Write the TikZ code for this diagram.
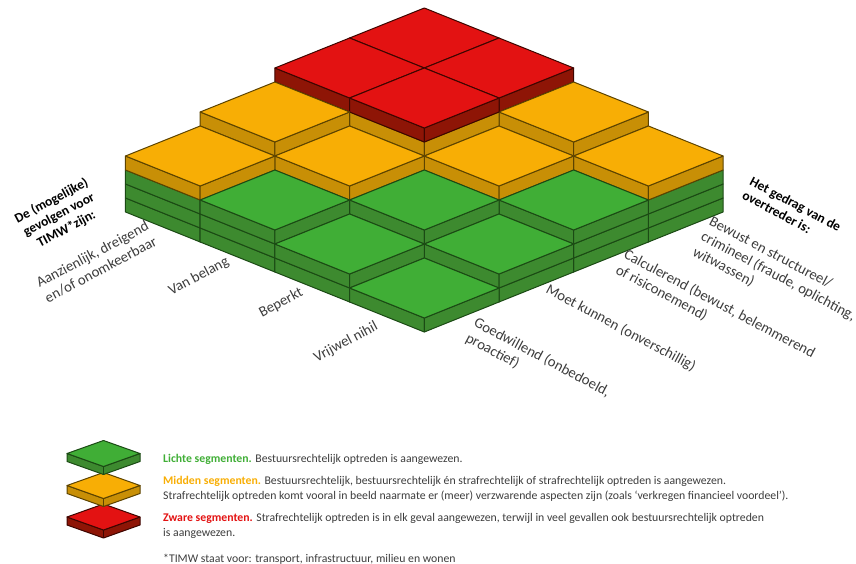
\documentclass[tikz,border=0pt]{standalone}
\usepackage{fontspec}
\setmainfont{Carlito}
\usepackage{tikz}

\definecolor{groen}{HTML}{40AE36}
\definecolor{groenzij}{HTML}{3D8A2F}
\definecolor{groenlijn}{HTML}{1B4A14}
\definecolor{oranje}{HTML}{F8AE05}
\definecolor{oranjezij}{HTML}{C88F06}
\definecolor{oranjelijn}{HTML}{5C4300}
\definecolor{rood}{HTML}{E31212}
\definecolor{roodzij}{HTML}{8E1506}
\definecolor{roodlijn}{HTML}{3D0500}
\definecolor{tekst}{HTML}{3C3C3C}

\begin{document}
\begin{tikzpicture}[x=1bp,y=-1bp,
  zijvlak/.style={fill=#1zij,draw=#1lijn,line width=1bp,line join=round},
  bovenvlak/.style={fill=#1,draw=#1lijn,line width=1bp,line join=round},
  as/.style={font=\fontsize{14.8}{17.5}\selectfont,text=tekst,inner sep=0pt},
  kop/.style={font=\fontsize{13.5}{16}\selectfont\bfseries,text=black,inner sep=0pt},
  legenda/.style={font=\fontsize{11.8}{14.7}\selectfont,text=tekst,inner sep=0pt,anchor=north west,align=left}]
 \useasboundingbox (0,0) rectangle (856,564); %beeldvlak

 % blokken: u = gevolgen, v = gedrag, h = aantal lagen
 \begin{scope}[shift={(424.3,332)},x={(-74.7bp,30bp)},y={(74.7bp,30bp)},z={(0bp,14bp)}]
  \foreach \u/\v/\h/\t in {3/3/6/rood,2/3/6/rood,3/2/6/rood,1/3/5/oranje,2/2/6/rood,3/1/5/oranje,
                           0/3/4/oranje,1/2/4/oranje,2/1/4/oranje,3/0/4/oranje,
                           0/2/3/groen,1/1/3/groen,2/0/3/groen,0/1/2/groen,1/0/2/groen,0/0/1/groen}{
   \foreach \k/\c in {1/groen,2/groen,3/groen,4/oranje,5/oranje,6/rood}{
    \ifnum\k>\h\relax\else
     \draw[zijvlak=\c] (\u,\v,\k-1) -- (\u+1,\v,\k-1) -- (\u+1,\v,\k) -- (\u,\v,\k) -- cycle; %linkerzijde
     \draw[zijvlak=\c] (\u,\v,\k-1) -- (\u,\v+1,\k-1) -- (\u,\v+1,\k) -- (\u,\v,\k) -- cycle; %rechterzijde
    \fi
   }
   \draw[bovenvlak=\t] (\u,\v,\h) -- (\u+1,\v,\h) -- (\u+1,\v+1,\h) -- (\u,\v+1,\h) -- cycle; %bovenkant
  }
 \end{scope}

 % as links
 \node[kop,rotate=28,align=center] (gevolgen) at (59,215) {De (mogelijke)\\gevolgen voor\\TIMW*zijn:};
 \node[as,rotate=28,align=right,anchor=north east] (aanzienlijk) at (145,220) {Aanzienlijk, dreigend\\en/of onomkeerbaar};
 \node[as,rotate=28,anchor=north east] (vanbelang) at (225,255) {Van belang};
 \node[as,rotate=28,anchor=north east] (beperkt) at (299,286) {Beperkt};
 \node[as,rotate=28,anchor=north east] (nihil) at (374,320) {Vrijwel nihil};

 % as rechts
 \node[kop,rotate=-28,align=left,anchor=north west] (gedrag) at (753.3,175.8) {Het gedrag van de\\overtreder is:};
 \node[as,rotate=-28,align=left,anchor=north west] (bewust) at (713,215) {Bewust en structureel/\\crimineel (fraude, oplichting,\\witwassen)};
 \node[as,rotate=-28,align=left,anchor=north west] (calculerend) at (628,248) {Calculerend (bewust, belemmerend\\of risiconemend)};
 \node[as,rotate=-28,anchor=north west] (moetkunnen) at (550,283) {Moet kunnen (onverschillig)};
 \node[as,rotate=-28,align=left,anchor=north west] (goedwillend) at (478,316) {Goedwillend (onbedoeld,\\proactief)};

 % legenda
 \foreach \c/\y in {rood/517,oranje/485.5,groen/453.5}{
  \draw[zijvlak=\c] (67,\y) -- (103.5,\y+13) -- (140,\y) -- (140,\y+8) -- (103.5,\y+21) -- (67,\y+8) -- cycle;
  \draw[zijvlak=\c] (103.5,\y+13) -- (103.5,\y+21);
  \draw[bovenvlak=\c] (67,\y) -- (103.5,\y-13) -- (140,\y) -- (103.5,\y+13) -- cycle;
 }
 \node[legenda] (licht) at (163,454) {\textcolor{groen}{\bfseries Lichte segmenten.} Bestuursrechtelijk optreden is aangewezen.};
 \node[legenda] (midden) at (163,476) {\textcolor{oranje}{\bfseries Midden segmenten.} Bestuursrechtelijk, bestuursrechtelijk én strafrechtelijk of strafrechtelijk optreden is aangewezen.\\Strafrechtelijk optreden komt vooral in beeld naarmate er (meer) verzwarende aspecten zijn (zoals ‘verkregen financieel voordeel’).};
 \node[legenda] (zwaar) at (163,513) {\textcolor{rood}{\bfseries Zware segmenten.} Strafrechtelijk optreden is in elk geval aangewezen, terwijl in veel gevallen ook bestuursrechtelijk optreden\\is aangewezen.};
 \node[legenda] (timw) at (163,554) {*TIMW staat voor: transport, infrastructuur, milieu en wonen};
\end{tikzpicture}
\end{document}
